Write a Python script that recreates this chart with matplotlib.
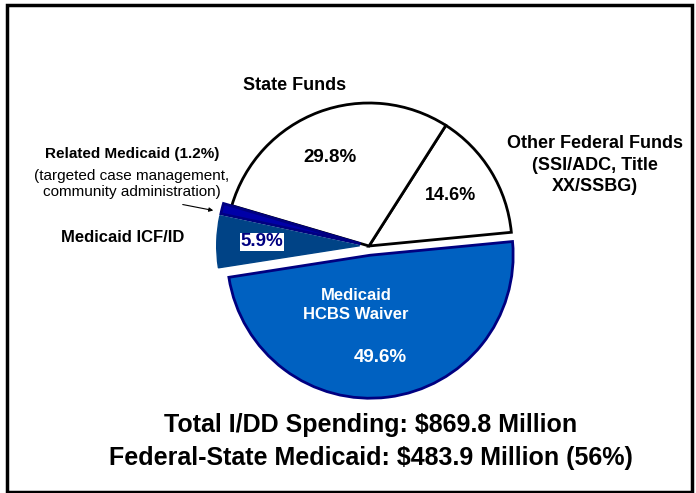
import matplotlib.pyplot as plt
from matplotlib.patches import Rectangle

plt.rcParams['font.family'] = ['Liberation Sans', 'DejaVu Sans']

# slices, counterclockwise from the right
nombres = ["Other Federal Funds", "State Funds", "Related Medicaid", "Medicaid ICF/ID", "Medicaid HCBS Waiver"]
valores = [14.6, 29.8, 1.2, 5.9, 49.6]
colores = ["white", "white", "#0000A8", "#004386", "#0061C1"]
bordes = ["black", "black", "#000080", "#004386", "#000080"]
explode = [0, 0, 0.06, 0.065, 0.065]

W, H = 696, 493
fig = plt.figure(figsize=(W / 100, H / 100), dpi=100)

# pie axes placed so the center lands at ~(369, 246) px, radius ~143 px
R = 143
lim = 1.25
lado = 2 * lim * R
cx, cy = 369, 246
ax = fig.add_axes([(cx - lado / 2) / W, (H - cy - lado / 2) / H, lado / W, lado / H])
ax.set_xlim(-lim, lim)
ax.set_ylim(-lim, lim)
ax.set_aspect("equal")
ax.axis("off")

wedges, _ = ax.pie(valores, colors=colores, explode=explode, startangle=5.5,
                   counterclock=True, radius=1.0,
                   wedgeprops=dict(linewidth=2, edgecolor="black"))
for w, b in zip(wedges, bordes):
    w.set_edgecolor(b)
wedges[3].set_linewidth(1)

def px(x, y):
    return x / W, 1 - y / H

# labels
fig.text(*px(295, 85), "State Funds", ha="center", va="center", fontsize=13, weight="bold")
fig.text(*px(330, 157), "29.8%", ha="center", va="center", fontsize=13.5, weight="bold")
fig.text(*px(451, 196), "14.6%", ha="center", va="center", fontsize=13, weight="bold")
fig.text(*px(595, 165), "Other Federal Funds\n(SSI/ADC, Title\nXX/SSBG)", ha="center", va="center",
         fontsize=13, weight="bold", linespacing=1.32)
fig.text(*px(132, 154), "Related Medicaid (1.2%)", ha="center", va="center", fontsize=11, weight="bold")
fig.text(*px(132, 184), "(targeted case management,\ncommunity administration)", ha="center", va="center",
         fontsize=11, linespacing=1.25)
fig.text(*px(123, 237), "Medicaid ICF/ID", ha="center", va="center", fontsize=12, weight="bold")
fig.text(*px(262, 242), "5.9%", ha="center", va="center", fontsize=13.5, weight="bold", color="#000080",
         bbox=dict(facecolor="white", edgecolor="none", pad=0.5))
fig.text(*px(356, 305), "Medicaid\nHCBS Waiver", ha="center", va="center", fontsize=12, weight="bold",
         color="white", linespacing=1.4)
fig.text(*px(380, 357), "49.6%", ha="center", va="center", fontsize=13.5, weight="bold", color="white")

fig.text(*px(371, 425), "Total I/DD Spending: $869.8 Million", ha="center", va="center",
         fontsize=18, weight="bold")
fig.text(*px(371, 458), "Federal-State Medicaid: $483.9 Million (56%)", ha="center", va="center",
         fontsize=18, weight="bold")

# arrow to the related medicaid sliver
fig.add_artist(plt.Annotation("", xy=px(216, 211), xytext=px(180, 204), xycoords="figure fraction",
                              arrowprops=dict(arrowstyle="-|>", color="black", lw=0.8,
                                              mutation_scale=6)))

# outer frame
fig.add_artist(Rectangle((6.5 / W, 1 - 491.5 / H), 685 / W, 487 / H, transform=fig.transFigure,
                         fill=False, edgecolor="black", linewidth=2.5))

fig.savefig("out.png", dpi=100)
